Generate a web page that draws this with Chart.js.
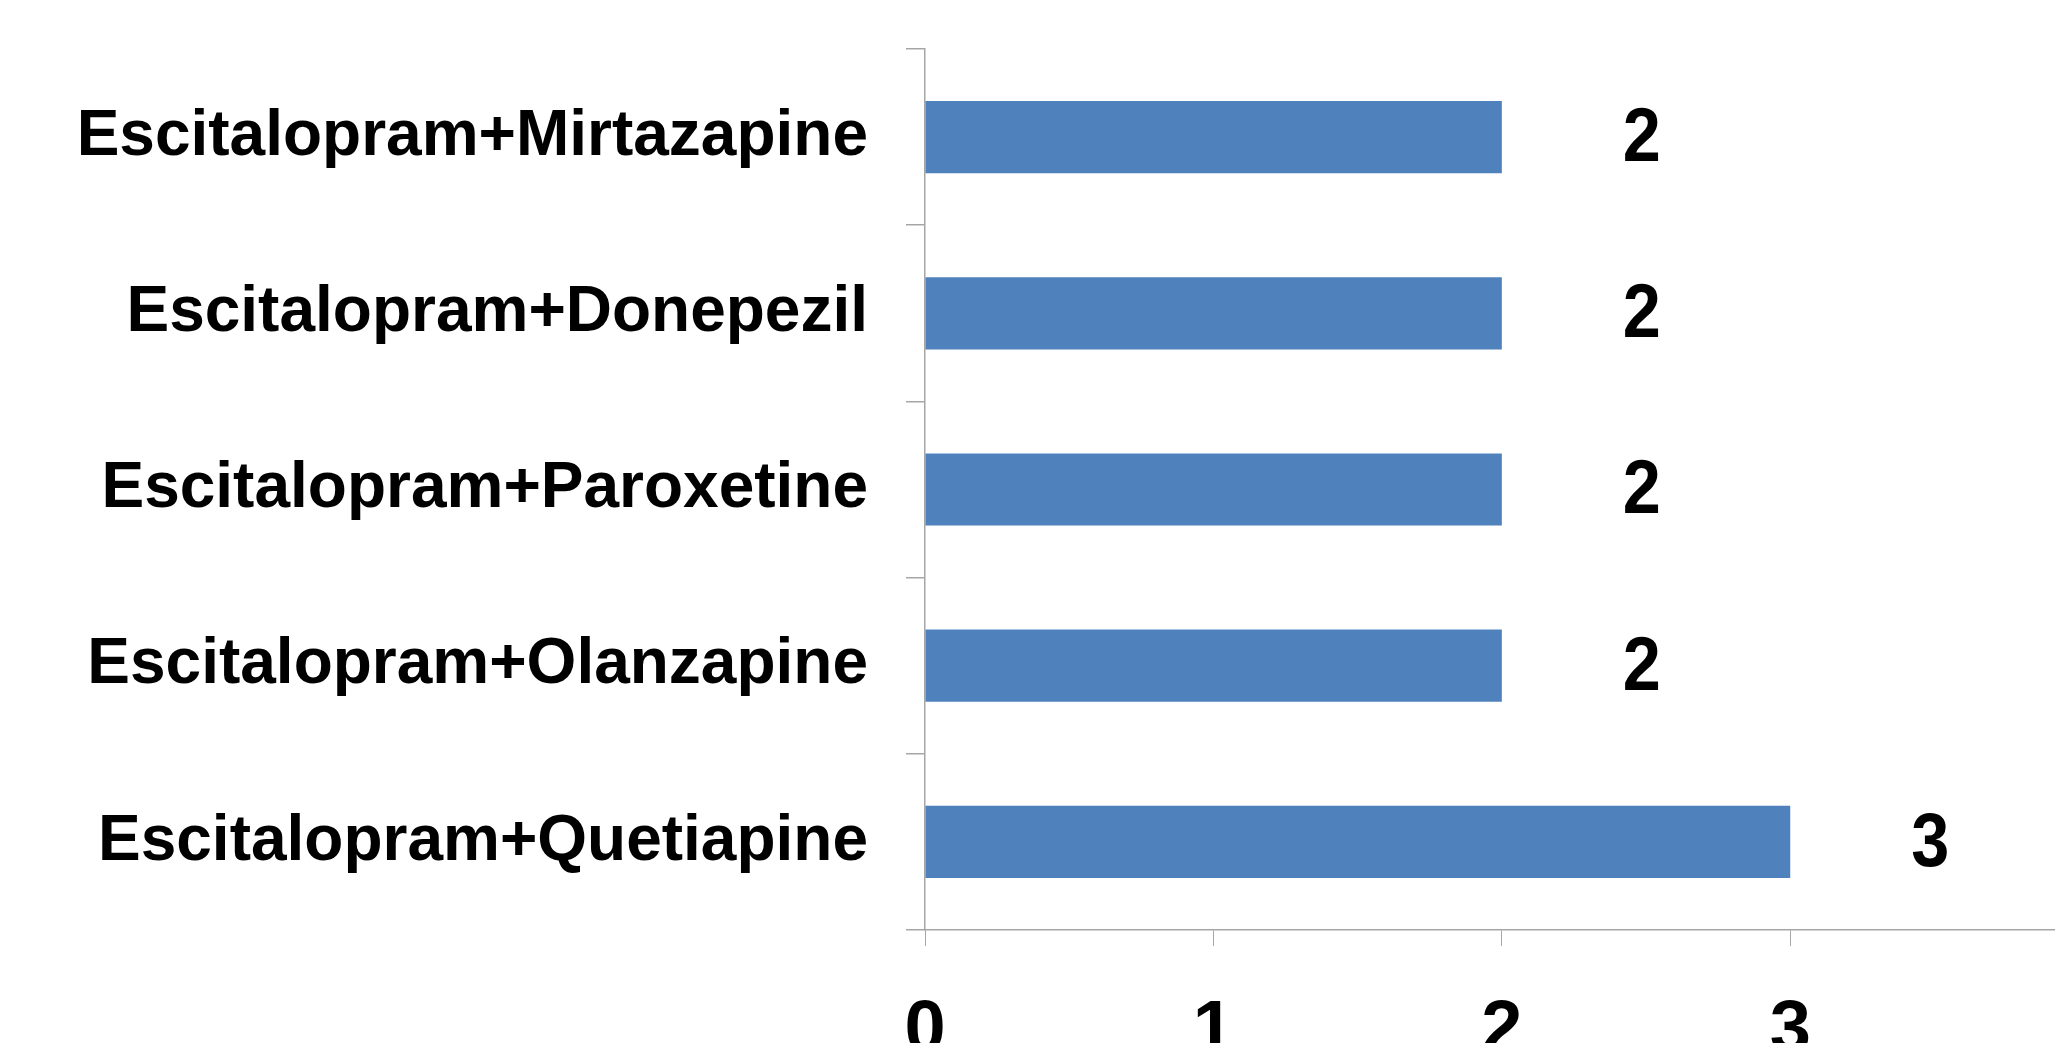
<!DOCTYPE html>
<html><head><meta charset="utf-8">
<script src="https://cdn.jsdelivr.net/npm/chart.js@4/dist/chart.umd.min.js"></script>
<style>html,body{margin:0;padding:0;background:#fff;overflow:hidden}#wrap{width:2055px;height:1043px;position:relative}</style>
</head><body><div id="wrap"><canvas id="c"></canvas></div>
<script>
const categories = ["Escitalopram+Mirtazapine","Escitalopram+Donepezil","Escitalopram+Paroxetine","Escitalopram+Olanzapine","Escitalopram+Quetiapine"];
const counts = [2, 2, 2, 2, 3];
const valueLabels = ["2", "2", "2", "2", "3"];
const xTickLabels = ["0", "1", "2", "3"];

const FONT = '"Liberation Sans", Arial, Helvetica, sans-serif';
const AXIS_GREY = '#a6a6a6';

const valueLabelPlugin = {
  id: 'valueLabels',
  afterDatasetsDraw(chart) {
    const ctx = chart.ctx;
    const meta = chart.getDatasetMeta(0);
    ctx.save();
    ctx.font = 'bold 76px ' + FONT;
    ctx.fillStyle = '#000';
    ctx.textAlign = 'center';
    ctx.textBaseline = 'middle';
    meta.data.forEach((bar, i) => {
      ctx.save();
      ctx.translate(bar.x + 140, bar.y + 3);
      ctx.scale(0.9, 1);
      ctx.fillText(valueLabels[i], 0, 0);
      ctx.restore();
    });
    ctx.restore();
  }
};

new Chart(document.getElementById('c'), {
  type: 'bar',
  data: {
    labels: categories,
    datasets: [{
      data: counts,
      backgroundColor: '#4f81bd',
      borderWidth: 0,
      barPercentage: 0.41,
      categoryPercentage: 1.0
    }]
  },
  options: {
    indexAxis: 'y',
    responsive: true,
    maintainAspectRatio: false,
    animation: false,
    layout: { padding: { top: 49, right: 0, left: 0, bottom: 0 } },
    plugins: { legend: { display: false }, tooltip: { enabled: false } },
    scales: {
      x: {
        min: 0,
        max: 3.918,
        ticks: {
          stepSize: 1,
          includeBounds: false,
          color: '#000',
          font: { family: FONT, size: 74, weight: 'bold' },
          padding: 41,
          callback: (v) => xTickLabels[v] !== undefined ? xTickLabels[v] : ''
        },
        grid: { drawOnChartArea: false, drawTicks: true, tickLength: 16, color: AXIS_GREY, lineWidth: 1 },
        border: { color: AXIS_GREY, width: 1.5 },
        afterFit(s) { s.height = 113; s.paddingLeft = 0; s.paddingRight = 0; }
      },
      y: {
        ticks: {
          color: '#000',
          font: { family: FONT, size: 64, weight: 'bold' },
          padding: 38
        },
        grid: { drawOnChartArea: false, drawTicks: true, tickLength: 19, color: AXIS_GREY, lineWidth: 1.5, offset: true },
        border: { color: AXIS_GREY, width: 1.5 },
        afterFit(s) { s.width = 925; s.paddingTop = 0; s.paddingBottom = 0; }
      }
    }
  },
  plugins: [valueLabelPlugin]
});
</script>
</body></html>
